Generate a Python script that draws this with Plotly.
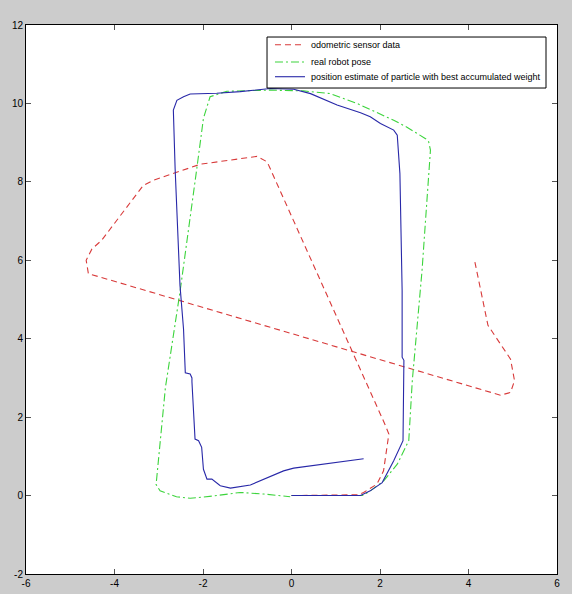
import plotly.graph_objects as go

# Odometric sensor data (dead reckoning)
odo_x = [0.0, 1.5, 1.63, 1.93, 2.08, 2.2, 2.11, -0.55, -0.78, -2.06, -3.12, -3.35,
         -4.29, -4.51, -4.64, -4.59, 4.72, 4.95, 5.04, 4.95, 4.44, 4.14]
odo_y = [0.0, 0.02, 0.08, 0.29, 0.63, 1.57, 1.82, 8.51, 8.65, 8.45, 8.04, 7.91,
         6.51, 6.29, 6.0, 5.66, 2.56, 2.63, 2.93, 3.48, 4.34, 5.98]

# Real robot pose
real_x = [0.0, 1.6, 1.78, 2.08, 2.39, 2.65, 2.73, 2.95, 3.14, 3.1, 3.03, 2.6, 2.31,
          1.48, 0.88, 0.27, -0.48, -1.46, -1.84, -1.99, -2.14, -2.52, -2.85, -3.04,
          -3.06, -2.97, -2.6, -2.29, -1.76, -1.16, -0.63, -0.03]
real_y = [0.0, 0.0, 0.12, 0.37, 0.8, 1.4, 2.93, 5.74, 8.81, 9.02, 9.1, 9.4, 9.57,
          10.0, 10.25, 10.32, 10.34, 10.31, 10.17, 9.62, 8.34, 5.19, 2.75, 0.5,
          0.28, 0.12, -0.03, -0.07, -0.01, 0.08, 0.04, -0.03]

# Position estimate of the particle with best accumulated weight
est_x = [0.0, 1.56, 1.78, 2.05, 2.31, 2.52, 2.54, 2.5, 2.5, 2.45, 2.39, 2.31, 2.01,
         1.78, 1.56, 1.03, 0.43, 0.05, -0.48, -1.16, -1.69, -2.29, -2.44, -2.59,
         -2.67, -2.63, -2.52, -2.44, -2.4, -2.29, -2.25, -2.25, -2.18, -2.1, -2.03,
         -1.99, -1.91, -1.8, -1.61, -1.38, -0.93, -0.18, 0.05, 1.63]
est_y = [0.0, 0.0, 0.12, 0.33, 0.89, 1.4, 3.45, 3.53, 5.23, 8.21, 9.19, 9.32, 9.49,
         9.66, 9.76, 9.96, 10.25, 10.36, 10.38, 10.3, 10.26, 10.24, 10.17, 10.08,
         9.83, 8.34, 5.36, 4.25, 3.13, 3.1, 3.0, 2.9, 1.44, 1.4, 1.23, 0.67, 0.42,
         0.42, 0.25, 0.19, 0.27, 0.63, 0.70, 0.94]

x_ticks = [-6, -4, -2, 0, 2, 4, 6]
y_ticks = [-2, 0, 2, 4, 6, 8, 10, 12]

names = ["odometric sensor data", "real robot pose",
         "position estimate of particle with best accumulated weight"]
colors = ["#d83a3a", "#3cd43c", "#2828a8"]
dashes = ["6px,4px", "8px,3px,2px,3px", "solid"]
series = [(odo_x, odo_y), (real_x, real_y), (est_x, est_y)]

FONT = "Liberation Sans, Arial, sans-serif"

fig = go.Figure()
for (xs, ys), name, color, dash in zip(series, names, colors, dashes):
    fig.add_trace(go.Scatter(x=xs, y=ys, mode="lines", name=name, showlegend=False,
                             line=dict(color=color, width=1.1, dash=dash)))

# Compact boxed legend in the upper right of the axes (paper coordinates)
box = dict(x0=0.4539, x1=0.9793, y0=0.8852, y1=0.9781)
row_y = [0.9641, 0.9326, 0.9058]
sample_x0, sample_x1, text_x = 0.4689, 0.5254, 0.533

shapes = [dict(type="rect", xref="paper", yref="paper", **box,
               fillcolor="white", line=dict(color="black", width=1), layer="above")]
annotations = []
for name, color, dash, ry in zip(names, colors, dashes, row_y):
    shapes.append(dict(type="line", xref="paper", yref="paper",
                       x0=sample_x0, x1=sample_x1, y0=ry, y1=ry, layer="above",
                       line=dict(color=color, width=1.1, dash=dash)))
    annotations.append(dict(xref="paper", yref="paper", x=text_x, y=ry, text=name,
                            showarrow=False, xanchor="left", yanchor="middle",
                            font=dict(family=FONT, size=9, color="black")))

axis_common = dict(
    showgrid=False, zeroline=False, showline=True, linecolor="black", linewidth=1,
    mirror="ticks", ticks="inside", ticklen=5, tickcolor="#555555",
    tickfont=dict(family=FONT, size=10, color="black"),
    automargin=False,
)

fig.update_layout(
    width=572, height=594,
    margin=dict(l=26, r=15, t=25, b=20),
    paper_bgcolor="#cccccc",
    plot_bgcolor="white",
    font=dict(family=FONT, size=10, color="black"),
    xaxis=dict(range=[-6, 6], tickvals=x_ticks, ticktext=[str(v) for v in x_ticks], **axis_common),
    yaxis=dict(range=[-2, 12], tickvals=y_ticks, ticktext=[str(v) for v in y_ticks], **axis_common),
    shapes=shapes,
    annotations=annotations,
    showlegend=False,
)

fig.write_html("out.html")
